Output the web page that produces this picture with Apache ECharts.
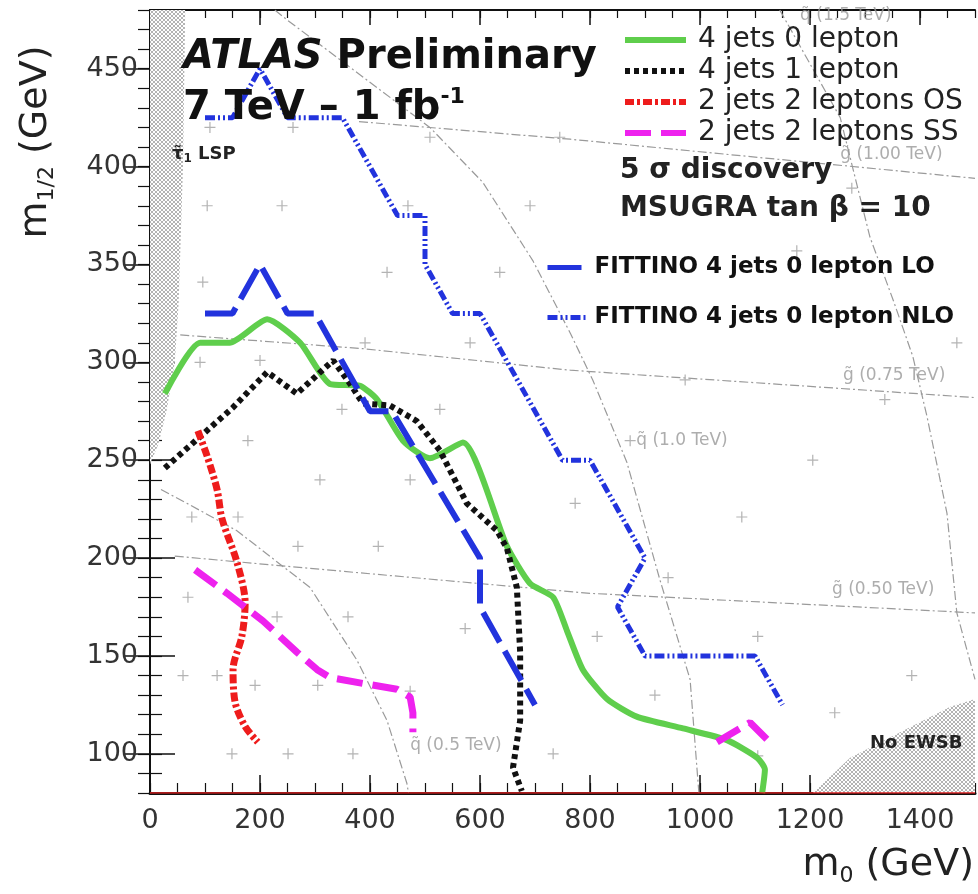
<!DOCTYPE html>
<html>
<head>
<meta charset="utf-8">
<script src="https://cdn.jsdelivr.net/npm/echarts@6/dist/echarts.min.js"></script>
<style>
html, body { margin: 0; padding: 0; background: #fff; }
#main { width: 978px; height: 894px; }
</style>
</head>
<body>
<div id="main"></div>
<script>
// discovery contours, [m0, m1/2] in GeV
var jets4lep0 = [[27,284],[91,310],[145,310],[213,322],[273,310],[327,289],[382,288],[413,281],[460,260],[509,251],[569,259],[649,206],[691,187],[733,180],[758,163],[787,143],[831,128],[885,119],[969,113],[1049,107],[1104,98],[1118,92],[1113,80]];
var jets4lep1 = [[27,246],[91,262],[151,277],[213,295],[267,284],[333,301],[364,289],[387,279],[436,278],[485,270],[527,255],[576,228],[631,214],[649,205],[667,185],[673,152],[673,117],[660,93],[676,81]];
var lep2OS = [[87,265],[104,252],[122,235],[131,220],[158,198],[173,177],[167,160],[151,143],[155,126],[173,114],[196,106]];
var lep2SS = [[82,194],[140,182],[205,168],[267,152],[304,143],[327,139],[387,136],[449,133],[473,129],[478,121],[478,111]];
var lep2SSb = [[1031,106],[1091,116],[1127,106]];
var fittinoLO = [[100,325],[150,325],[200,350],[250,325],[300,325],[400,275],[440,275],[600,200],[600,175],[700,125]];
var fittinoNLO = [[100,425],[150,425],[200,450],[250,425],[350,425],[450,375],[500,375],[500,350],[550,325],[600,325],[750,250],[800,250],[900,200],[850,175],[900,150],[1100,150],[1150,125]];

// iso-mass lines
var gluino050 = [[45,201],[400,192],[800,182],[1500,172]];
var gluino075 = [[55,314],[387,307],[764,296],[1500,282]];
var gluino100 = [[380,423],[764,414],[1500,394]];
var squark05 = [[20,235],[67,228],[158,214],[291,185],[376,148],[431,117],[467,85],[470,80]];
var squark10 = [[227,480],[249,475],[509,420],[605,392],[696,352],[764,315],[805,291],[867,249],[927,189],[982,138],[996,87],[998,80]];
var squark15 = [[1145,480],[1255,425],[1309,364],[1351,332],[1387,303],[1413,272],[1449,223],[1467,172],[1500,138]];
var lepLimit = [[0,80],[1500,80]];

// excluded regions
var stauLSP = [[0,480],[64,480],[60,400],[52,330],[45,300],[30,275],[15,258],[0,248]];
var noEWSB = [[1205,80],[1273,98],[1364,111],[1455,124],[1500,128],[1500,80]];

// grid points
var gridPoints = [[104,380],[240,380],[469,380],[691,380],[109,420],[260,420],[509,415],[745,415],[96,341],[431,346],[636,346],[391,310],[582,310],[91,300],[200,301],[349,276],[527,276],[178,260],[309,240],[473,240],[773,228],[76,221],[160,221],[269,206],[415,206],[69,180],[231,170],[360,170],[573,164],[60,140],[122,140],[191,135],[305,135],[473,132],[149,100],[251,100],[369,100],[733,100],[1076,221],[1205,250],[942,190],[813,160],[1105,160],[1385,140],[918,130],[1245,121],[1105,99],[1336,281],[1276,389],[1176,357],[973,291],[1467,310],[873,260]];

var isoLabels = [
    [1255, 406, 'g\u0303 (1.00 TeV)'],
    [1260, 293, 'g\u0303 (0.75 TeV)'],
    [1240, 184, 'g\u0303 (0.50 TeV)'],
    [884, 260, 'q\u0303 (1.0 TeV)'],
    [473, 104, 'q\u0303 (0.5 TeV)'],
    [1182, 477, 'q\u0303 (1.5 TeV)']
];

var xMajor = [0, 200, 400, 600, 800, 1000, 1200, 1400];
var yMajor = [100, 150, 200, 250, 300, 350, 400, 450];

var FONT = "'DejaVu Sans', sans-serif";

var hatch = document.createElement('canvas');
hatch.width = 4; hatch.height = 4;
var hc = hatch.getContext('2d');
hc.fillStyle = '#ffffff'; hc.fillRect(0, 0, 4, 4);
hc.fillStyle = '#b4b4b4';
for (var k = 0; k < 4; k++) { hc.fillRect(k, k, 1, 1); hc.fillRect(3 - k, k, 1, 1); }

function region(name, pts) {
    return {
        type: 'custom', name: name, silent: true, z: 1,
        data: [pts[0]],
        renderItem: function (params, api) {
            return {
                type: 'polygon',
                shape: { points: pts.map(function (p) { return api.coord(p); }) },
                style: { fill: { image: hatch, repeat: 'repeat' } }
            };
        }
    };
}

function isoLine(pts) {
    return {
        type: 'line', data: pts, symbol: 'none', silent: true, z: 2,
        lineStyle: { color: '#9a9a9a', width: 1.2, type: [9, 3, 2, 3] }
    };
}

function contour(name, pts, color, width, dash, smooth) {
    return {
        type: 'line', name: name, data: pts, symbol: 'none', z: 5,
        smooth: smooth || false,
        lineStyle: { color: color, width: width, type: dash, cap: 'butt' },
        itemStyle: { color: color }
    };
}

function axisPair(dim, pos, min, max, step, major, majorLen, minorLen, withLabels) {
    var line = { show: true, lineStyle: { color: '#111', width: pos === 'bottom' ? 3 : 2 } };
    return [{
        type: 'value', position: pos, min: min, max: max,
        axisLine: line,
        axisTick: { show: true, inside: true, length: majorLen, customValues: major, lineStyle: { color: '#111', width: 1.5 } },
        axisLabel: withLabels ? {
            show: true, customValues: major, color: '#333', fontSize: 27, fontFamily: FONT,
            margin: dim === 'x' ? 14 : 12,
            formatter: function (v) { return String(v); }
        } : { show: false },
        splitLine: { show: false }
    }, {
        type: 'value', position: pos, min: min, max: max, interval: step,
        axisLine: { show: false },
        axisTick: { show: true, inside: true, length: minorLen, lineStyle: { color: '#111', width: 1.2 } },
        axisLabel: { show: false },
        splitLine: { show: false }
    }];
}

var chart = echarts.init(document.getElementById('main'));

var option = {
    animation: false,
    backgroundColor: '#fff',
    grid: { left: 150, right: 3, top: 10, bottom: 101, outerBoundsMode: 'none' },
    xAxis: axisPair('x', 'bottom', 0, 1500, 50, xMajor, 18, 10, true)
        .concat(axisPair('x', 'top', 0, 1500, 50, xMajor, 15, 8, false)),
    yAxis: axisPair('y', 'left', 80, 480, 10, yMajor, 25, 12, true)
        .concat(axisPair('y', 'right', 80, 480, 10, yMajor, 25, 12, false)),
    legend: [{
        orient: 'vertical', left: 617, top: 21, itemWidth: 61, itemHeight: 14, itemGap: 3,
        selectedMode: false,
        data: ['4 jets 0 lepton', '4 jets 1 lepton', '2 jets 2 leptons OS', '2 jets 2 leptons SS'],
        itemStyle: { opacity: 0, color: 'rgba(0,0,0,0)', borderWidth: 0 },
        lineStyle: { width: 6 },
        textStyle: { fontFamily: FONT, fontSize: 28, lineHeight: 28, color: '#222', padding: [0, 0, 0, 7] }
    }, {
        orient: 'vertical', left: 540, top: 251, itemWidth: 38, itemHeight: 14, itemGap: 27,
        selectedMode: false,
        data: ['FITTINO 4 jets 0 lepton LO', 'FITTINO 4 jets 0 lepton NLO'],
        itemStyle: { opacity: 0, color: 'rgba(0,0,0,0)', borderWidth: 0 },
        lineStyle: { width: 5 },
        textStyle: { fontFamily: FONT, fontWeight: 'bold', fontSize: 23, lineHeight: 23, color: '#111', padding: [0, 0, 0, 4] }
    }],
    series: [
        region('stau LSP', stauLSP),
        region('No EWSB', noEWSB),
        isoLine(gluino050), isoLine(gluino075), isoLine(gluino100),
        isoLine(squark05), isoLine(squark10), isoLine(squark15),
        {
            type: 'scatter', data: gridPoints, silent: true, z: 3,
            symbol: 'path://M4,0h1v4h4v1h-4v4h-1v-4h-4v-1h4z', symbolSize: 11,
            itemStyle: { color: '#a0a0a0' }
        },
        {
            type: 'scatter', data: isoLabels, silent: true, z: 4, symbolSize: 0,
            label: {
                show: true, position: 'right', distance: 0,
                formatter: function (p) { return p.value[2]; },
                color: '#999', fontSize: 17, fontFamily: FONT
            }
        },
        {
            type: 'line', data: lepLimit, symbol: 'none', silent: true, z: 6,
            lineStyle: { color: '#e02020', width: 1.5 }
        },
        contour('4 jets 0 lepton', jets4lep0, '#5fce4c', 6, 'solid', 0.2),
        contour('4 jets 1 lepton', jets4lep1, '#111111', 6, [5, 4]),
        contour('2 jets 2 leptons OS', lep2OS, '#ee1c1c', 7, [9, 3, 3, 3], 0.3),
        contour('2 jets 2 leptons SS', lep2SS, '#ee22ee', 7, [26, 10]),
        contour('2 jets 2 leptons SS', lep2SSb, '#ee22ee', 7, [26, 10]),
        contour('FITTINO 4 jets 0 lepton LO', fittinoLO, '#2233dd', 6, [34, 10]),
        contour('FITTINO 4 jets 0 lepton NLO', fittinoNLO, '#2233dd', 5, [10, 3, 2, 3, 2, 3])
    ],
    graphic: [
        {
            type: 'text', left: 183, top: 38, z: 10,
            style: {
                text: '{a|ATLAS} {b|Preliminary}',
                font: 'bold 40px ' + FONT,
                rich: {
                    a: { fontStyle: 'italic', fontWeight: 'bold', fontSize: 40, fontFamily: FONT, fill: '#111' },
                    b: { fontWeight: 'bold', fontSize: 40, fontFamily: FONT, fill: '#111' }
                }
            }
        },
        {
            type: 'text', left: 183, top: 86, z: 10,
            style: {
                text: '{b|7 TeV \u2013 1 fb}{s|-1}',
                rich: {
                    b: { fontWeight: 'bold', fontSize: 40, lineHeight: 46, fontFamily: FONT, fill: '#111' },
                    s: { fontWeight: 'bold', fontSize: 22, lineHeight: 22, verticalAlign: 'top', fontFamily: FONT, fill: '#111' }
                }
            }
        },
        {
            type: 'text', left: 172, top: 145, z: 10,
            style: {
                text: '{t|\u03c4\u0303}{s|1}{t| LSP}',
                rich: {
                    t: { fontWeight: 'bold', fontSize: 18, lineHeight: 22, fontFamily: FONT, fill: '#222' },
                    s: { fontWeight: 'bold', fontSize: 12, lineHeight: 12, verticalAlign: 'bottom', fontFamily: FONT, fill: '#222' }
                }
            }
        },
        {
            type: 'text', left: 620, top: 157, z: 10,
            style: { text: '5 \u03c3 discovery', font: 'bold 28px ' + FONT, fill: '#222' }
        },
        {
            type: 'text', left: 620, top: 195, z: 10,
            style: { text: 'MSUGRA tan \u03b2 = 10', font: 'bold 28px ' + FONT, fill: '#222' }
        },
        {
            type: 'text', left: 870, top: 734, z: 10,
            style: { text: 'No EWSB', font: 'bold 18px ' + FONT, fill: '#222' }
        },
        {
            type: 'text', x: 36, y: 142, rotation: Math.PI / 2, z: 10,
            style: {
                text: '{m|m}{s|1/2}{m| (GeV)}',
                align: 'center', verticalAlign: 'middle',
                rich: {
                    m: { fontSize: 38, lineHeight: 44, fontFamily: FONT, fill: '#222' },
                    s: { fontSize: 22, lineHeight: 22, verticalAlign: 'bottom', fontFamily: FONT, fill: '#222' }
                }
            }
        },
        {
            type: 'text', right: 4, top: 846, z: 10,
            style: {
                text: '{m|m}{s|0}{m| (GeV)}',
                rich: {
                    m: { fontSize: 38, lineHeight: 44, fontFamily: FONT, fill: '#222' },
                    s: { fontSize: 22, lineHeight: 22, verticalAlign: 'bottom', fontFamily: FONT, fill: '#222' }
                }
            }
        }
    ]
};

chart.setOption(option);
</script>
</body>
</html>
